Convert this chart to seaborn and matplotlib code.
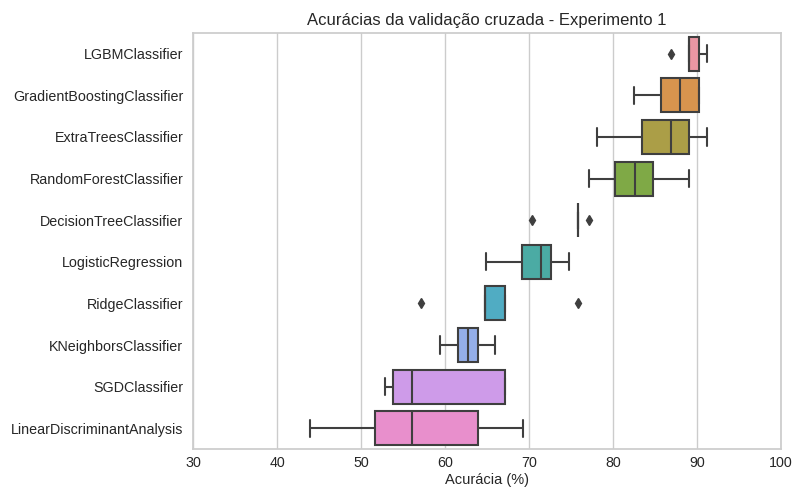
import matplotlib
matplotlib.use("Agg")
import matplotlib.pyplot as plt
import seaborn as sns
import pandas as pd

# Cross-validation accuracies (%) per model, 10 folds each
models = [
    "LGBMClassifier",
    "GradientBoostingClassifier",
    "ExtraTreesClassifier",
    "RandomForestClassifier",
    "DecisionTreeClassifier",
    "LogisticRegression",
    "RidgeClassifier",
    "KNeighborsClassifier",
    "SGDClassifier",
    "LinearDiscriminantAnalysis",
]

lgbm = [86.9, 89.0, 89.0, 89.0, 89.0, 89.0, 90.2, 90.2, 91.2, 91.2]
gradient_boosting = [82.5, 83.6, 85.7, 85.7, 88.0, 88.0, 90.2, 90.2, 90.2, 90.2]
extra_trees = [78.1, 81.0, 83.5, 83.5, 86.9, 86.9, 89.1, 89.1, 90.0, 91.2]
random_forest = [77.1, 79.0, 80.2, 80.2, 82.6, 82.6, 84.7, 84.7, 86.5, 89.1]
decision_tree = [70.4, 75.8, 75.8, 75.8, 75.8, 75.8, 75.8, 75.8, 75.8, 77.1]
logistic = [64.9, 67.5, 69.2, 69.2, 71.4, 71.4, 72.6, 72.6, 73.5, 74.8]
ridge = [57.2, 64.8, 64.8, 64.8, 64.8, 64.8, 67.1, 67.1, 67.1, 75.8]
kneighbors = [59.4, 60.5, 61.5, 61.5, 62.7, 62.7, 63.9, 63.9, 65.0, 66.0]
sgd = [52.8, 53.2, 53.8, 53.8, 56.1, 56.1, 67.1, 67.1, 67.1, 67.1]
lda = [43.9, 48.0, 51.7, 51.7, 56.1, 56.1, 63.9, 63.9, 66.0, 69.3]

scores = [lgbm, gradient_boosting, extra_trees, random_forest, decision_tree,
          logistic, ridge, kneighbors, sgd, lda]

df = pd.DataFrame(
    [(m, v) for m, vals in zip(models, scores) for v in vals],
    columns=["modelo", "acuracia"],
)

sns.set_theme(style="whitegrid")
plt.rcParams["font.family"] = ["Liberation Sans", "DejaVu Sans"]

fig, ax = plt.subplots(figsize=(7.93, 4.88), dpi=100)
fig.subplots_adjust(left=0.2434, right=0.9849, top=0.9324, bottom=0.0799)

line_color = "#3f3f3f"
sns.boxplot(
    data=df, x="acuracia", y="modelo", hue="modelo", order=models,
    hue_order=models, palette=sns.husl_palette(len(models), l=.7),
    saturation=0.75, width=0.82, legend=False, ax=ax,
    linecolor=line_color, linewidth=1.5,
    flierprops=dict(marker="d", markerfacecolor=line_color,
                    markeredgecolor=line_color, markersize=5),
)

ax.set_xlim(30, 100)
ax.set_xticks(range(30, 101, 10))
ax.set_title("Acurácias da validação cruzada - Experimento 1",
             fontsize=12, color="#262626", pad=6)
ax.set_xlabel("Acurácia (%)", fontsize=10.5, color="#262626", labelpad=2)
ax.set_ylabel("")
ax.tick_params(axis="both", labelsize=10.3, colors="#262626", length=0)
ax.tick_params(axis="y", pad=7)
ax.tick_params(axis="x", pad=5)
ax.yaxis.grid(False)

fig.savefig("out.png", dpi=100)
